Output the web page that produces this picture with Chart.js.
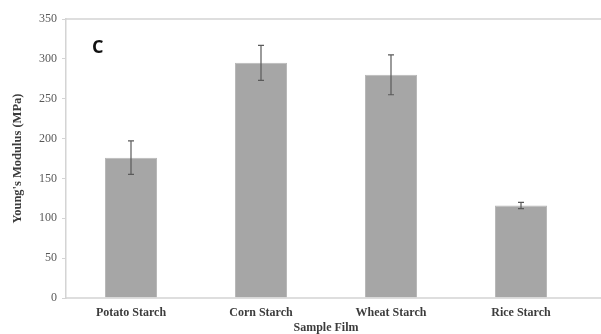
<!DOCTYPE html>
<html>
<head>
<meta charset="utf-8">
<script src="https://cdn.jsdelivr.net/npm/chart.js@4.4.1/dist/chart.umd.min.js"></script>
<style>
  html, body { margin: 0; padding: 0; background: #fff; }
  #wrap { width: 601px; height: 334px; position: relative; }
</style>
</head>
<body>
<div id="wrap"><canvas id="c"></canvas></div>
<script>
// Young's modulus of starch films
const categories = ['Potato Starch', 'Corn Starch', 'Wheat Starch', 'Rice Starch'];
const modulus = [176, 295, 280, 116];
const modulusErr = [21, 22, 25, 4];
const yTicks = [0, 50, 100, 150, 200, 250, 300, 350];

const AXIS_GRAY = '#d4d4d4';
const TEXT_DARK = '#3c3c3c';

// error bars with small caps, plus the frame lines and panel letter
const extras = {
  id: 'extras',
  afterDatasetsDraw(chart) {
    const { ctx, scales: { x, y }, chartArea } = chart;
    ctx.save();
    // top and bottom frame lines run to the right edge
    ctx.strokeStyle = AXIS_GRAY;
    ctx.lineWidth = 1.5;
    ctx.beginPath();
    ctx.moveTo(chartArea.left, y.getPixelForValue(350));
    ctx.lineTo(chart.width, y.getPixelForValue(350));
    ctx.moveTo(chartArea.left, y.getPixelForValue(0));
    ctx.lineTo(chart.width, y.getPixelForValue(0));
    ctx.stroke();

    ctx.strokeStyle = '#5a5a5a';
    ctx.lineWidth = 1.2;
    modulus.forEach((v, i) => {
      const cx = x.getPixelForValue(i);
      const yTop = y.getPixelForValue(v + modulusErr[i]);
      const yBot = y.getPixelForValue(v - modulusErr[i]);
      ctx.beginPath();
      ctx.moveTo(cx, yTop); ctx.lineTo(cx, yBot);
      ctx.moveTo(cx - 3, yTop); ctx.lineTo(cx + 3, yTop);
      ctx.moveTo(cx - 3, yBot); ctx.lineTo(cx + 3, yBot);
      ctx.stroke();
    });

    ctx.fillStyle = '#111';
    ctx.font = 'bold 18px "Open Sans", "Liberation Sans", sans-serif';
    ctx.textBaseline = 'alphabetic';
    ctx.fillText('C', chartArea.left + 26, y.getPixelForValue(0) - 245);
    ctx.restore();
  }
};

new Chart(document.getElementById('c'), {
  type: 'bar',
  data: {
    labels: categories,
    datasets: [{
      data: modulus,
      backgroundColor: '#a6a6a6',
      borderColor: '#b8b8b8',
      borderWidth: 1,
      barPercentage: 0.4,
      categoryPercentage: 1.0
    }]
  },
  options: {
    responsive: true,
    maintainAspectRatio: false,
    animation: false,
    layout: { padding: { top: 19, right: 15, left: 0, bottom: 0 } },
    plugins: { legend: { display: false }, tooltip: { enabled: false } },
    scales: {
      x: {
        afterFit(s) { s.height = 36; },
        grid: { display: false, drawTicks: false },
        border: { display: false },
        ticks: {
          padding: 8,
          color: TEXT_DARK,
          font: { family: '"Liberation Serif", "Times New Roman", serif', size: 12, weight: 'bold' }
        },
        title: {
          display: true,
          text: 'Sample Film',
          color: TEXT_DARK,
          padding: { top: 0, bottom: -1 },
          font: { family: '"Liberation Serif", "Times New Roman", serif', size: 12, weight: 'bold' }
        }
      },
      y: {
        min: 0,
        max: 350,
        afterFit(s) { s.width = 66; },
        afterBuildTicks(s) { s.ticks = yTicks.map(v => ({ value: v })); },
        grid: { drawOnChartArea: false, drawTicks: true, tickLength: 4, color: AXIS_GRAY },
        border: { display: true, color: AXIS_GRAY, width: 1.5 },
        ticks: {
          padding: 5,
          color: '#595959',
          font: { family: '"Liberation Serif", "Times New Roman", serif', size: 12 }
        },
        title: {
          display: true,
          text: "Young's Modulus (MPa)",
          color: TEXT_DARK,
          padding: { top: 10, bottom: 0 },
          font: { family: '"Liberation Serif", "Times New Roman", serif', size: 12.5, weight: 'bold' }
        }
      }
    }
  },
  plugins: [extras]
});
</script>
</body>
</html>
